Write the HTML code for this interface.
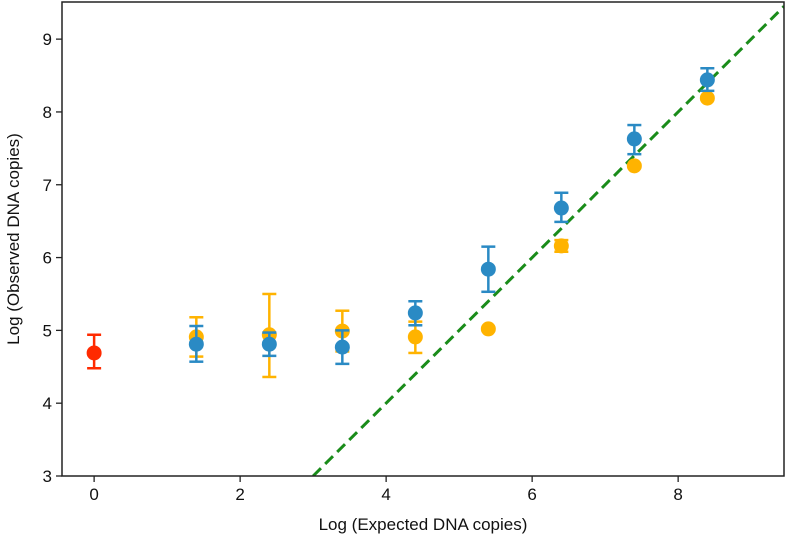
<!DOCTYPE html>
<html><head><meta charset="utf-8"><style>
body{margin:0;background:#fff}
svg{display:block;font-family:"Liberation Sans",sans-serif}
</style></head><body>
<svg id="chart" width="787" height="542" viewBox="0 0 787 542"></svg>
<script>
const xTicks=[0,2,4,6,8];
const yTicks=[3,4,5,6,7,8,9];
const blueX=[1.4,2.4,3.4,4.4,5.4,6.4,7.4,8.4];
const blueY=[4.81,4.81,4.77,5.24,5.84,6.68,7.63,8.44];
const blueLo=[4.57,4.65,4.54,5.07,5.53,6.49,7.42,8.29];
const blueHi=[5.06,4.97,5.0,5.40,6.15,6.89,7.82,8.60];
const orangeX=[1.4,2.4,3.4,4.4,5.4,6.4,7.4,8.4];
const orangeY=[4.91,4.94,4.99,4.91,5.02,6.16,7.26,8.19];
const orangeLo=[4.64,4.36,4.71,4.69,5.0,6.08,7.24,8.17];
const orangeHi=[5.18,5.50,5.27,5.12,5.04,6.24,7.28,8.21];
const redX=[0];
const redY=[4.69];
const redLo=[4.48];
const redHi=[4.94];
const L=62,R=784,T=2,B=476,x0=-0.44,x1=9.45,y0=3,y1=9.51;
const sx=v=>L+(v-x0)/(x1-x0)*(R-L);
const sy=v=>B-(v-y0)/(y1-y0)*(B-T);
const svg=document.getElementById('chart');
const NS='http://www.w3.org/2000/svg';
function mk(t,a,p){const e=document.createElementNS(NS,t);for(const k in a)e.setAttribute(k,a[k]);(p||svg).appendChild(e);return e;}
const defs=mk('defs',{});const cp=mk('clipPath',{id:'cp'},defs);mk('rect',{x:L,y:T,width:R-L,height:B-T},cp);
const g=mk('g',{'clip-path':'url(#cp)'});


const diag=mk('line',{x1:sx(y0),y1:sy(y0),x2:sx(x1),y2:sy(x1),stroke:'#1a8c1a','stroke-width':3,'stroke-dasharray':'11,6'},g);


function series(xs,ys,lo,hi,color,name){
  for(let i=0;i<xs.length;i++){
    const cx=sx(xs[i]);
    const eg=mk('g',{stroke:color,'stroke-width':2.5},g);
    
    
    mk('line',{x1:cx,x2:cx,y1:sy(lo[i]),y2:sy(hi[i])},eg);
    mk('line',{x1:cx-7,x2:cx+7,y1:sy(lo[i]),y2:sy(lo[i])},eg);
    mk('line',{x1:cx-7,x2:cx+7,y1:sy(hi[i]),y2:sy(hi[i])},eg);
    const c=mk('circle',{cx:cx,cy:sy(ys[i]),r:7.5,fill:color},g);
    
    
  }
}
series(redX,redY,redLo,redHi,'#ff2a00','red');
series(orangeX,orangeY,orangeLo,orangeHi,'#ffb300','orange');
series(blueX,blueY,blueLo,blueHi,'#2a8ac4','blue');
const fr=mk('rect',{x:L,y:T,width:R-L,height:B-T,fill:'none',stroke:'#222','stroke-width':1.5});


xTicks.forEach(v=>{
  mk('line',{x1:sx(v),x2:sx(v),y1:B,y2:B+6,stroke:'#222','stroke-width':1.3});
  const t=mk('text',{x:sx(v),y:B+24,'text-anchor':'middle','font-size':17,fill:'#111'});t.textContent=v;
  
  
});
yTicks.forEach(v=>{
  mk('line',{x1:L-6,x2:L,y1:sy(v),y2:sy(v),stroke:'#222','stroke-width':1.3});
  const t=mk('text',{x:L-10,y:sy(v)+6,'text-anchor':'end','font-size':17,fill:'#111'});t.textContent=v;
  
  
});
const xt=mk('text',{x:(L+R)/2,y:530,'text-anchor':'middle','font-size':17,fill:'#111'});xt.textContent='Log (Expected DNA copies)';


const yt=mk('text',{x:0,y:0,'text-anchor':'middle','font-size':17,fill:'#111',transform:`translate(19,${(T+B)/2}) rotate(-90)`});yt.textContent='Log (Observed DNA copies)';


</script>
</body></html>
